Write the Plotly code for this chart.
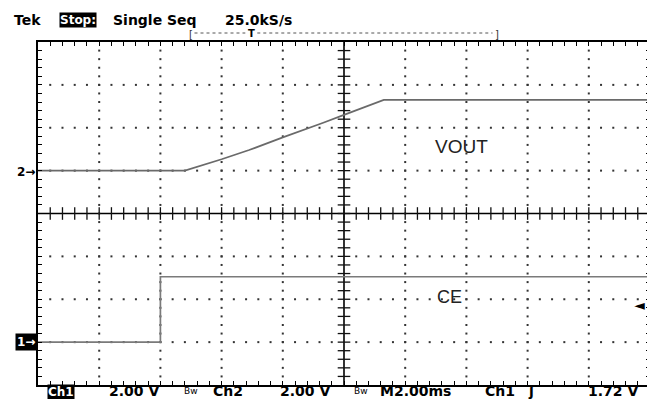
import numpy as np
import plotly.graph_objects as go

# ---- data (time in ms relative to trigger, volts) ----
vout_time_ms = [-4.0, 0.8, 2.0, 2.9, 4.0, 4.55, 5.3, 6.0, 6.7, 7.05, 7.3, 16.0]
vout_volts = [0.0, 0.0, 0.53, 0.96, 1.55, 1.82, 2.22, 2.6, 2.98, 3.18, 3.3, 3.3]
ce_time_ms = [-4.0, 0.0, 0.0, 16.0]
ce_volts = [0.0, 0.0, 3.05, 3.05]
trigger_level_v = 1.72

# ---- scope settings ----
t_range = [-4.0, 16.0]          # 10 div x 2 ms
ch1_range = [-2.0, 14.0]        # 8 div x 2 V, ground at -3 div
ch2_range = [-10.0, 6.0]        # 8 div x 2 V, ground at +1 div
t_div, v_div = 2.0, 2.0

# page body has an 8px margin; compensate so the figure fills the window
OFF = 8
W, H = 655 - OFF, 399 - OFF
L, R, T, B = 38 - OFF, 3, 42 - OFF, 14
pw, ph = W - L - R, H - T - B


def px(x):
    return (x - OFF - L) / pw


def py(y):
    return (H - B - (y - OFF)) / ph


fig = go.Figure()

# graticule dots (in Ch1 / time coordinates)
tc = (t_range[0] + t_range[1]) / 2
vc = (ch1_range[0] + ch1_range[1]) / 2
major_t = [t_range[0] + t_div * k for k in range(1, 10) if k != 5]
major_v = [ch1_range[0] + v_div * k for k in range(1, 8) if k != 4]
minor_t = np.arange(t_range[0] + 0.4, t_range[1] - 0.01, 0.4)
minor_v = np.arange(ch1_range[0] + 0.4, ch1_range[1] - 0.01, 0.4)
dx, dy = [], []
for t in major_t:
    dx += [t] * len(minor_v)
    dy += list(minor_v)
for v in major_v:
    dx += list(minor_t)
    dy += [v] * len(minor_t)
fig.add_trace(go.Scatter(x=dx, y=dy, mode="markers", hoverinfo="skip",
                         marker=dict(symbol="square", size=2, color="#333"),
                         yaxis="y"))

# center line ticks
fig.add_trace(go.Scatter(x=list(minor_t), y=[vc] * len(minor_t), mode="markers",
                         hoverinfo="skip",
                         marker=dict(symbol="line-ns", size=9,
                                     line=dict(width=1.3, color="#111"))))
fig.add_trace(go.Scatter(x=[tc] * len(minor_v), y=list(minor_v), mode="markers",
                         hoverinfo="skip",
                         marker=dict(symbol="line-ew", size=9,
                                     line=dict(width=1.3, color="#111"))))

# signals
fig.add_trace(go.Scatter(x=vout_time_ms, y=vout_volts, mode="lines", yaxis="y2",
                         line=dict(color="#6a6a6a", width=1.7), name="VOUT"))
fig.add_trace(go.Scatter(x=ce_time_ms, y=ce_volts, mode="lines", yaxis="y",
                         line=dict(color="#7a7a7a", width=1.7), name="CE"))

axis_common = dict(showgrid=False, zeroline=False, showline=True, mirror="ticks",
                   linecolor="black", linewidth=2, ticks="inside", ticklen=4,
                   tickwidth=1.3, tickcolor="black", showticklabels=False,
                   fixedrange=True)
fig.update_layout(
    width=W, height=H,
    margin=dict(l=L, r=R, t=T, b=B),
    paper_bgcolor="white", plot_bgcolor="white",
    showlegend=False,
    xaxis=dict(range=t_range, tick0=t_range[0], dtick=0.4, **axis_common),
    yaxis=dict(range=ch1_range, tick0=ch1_range[0], dtick=0.4, **axis_common),
    yaxis2=dict(range=ch2_range, overlaying="y", visible=False),
)

# center lines
fig.add_shape(type="line", xref="x", yref="y", x0=tc, x1=tc, y0=ch1_range[0],
              y1=ch1_range[1], line=dict(color="black", width=1.6), layer="below")
fig.add_shape(type="line", xref="x", yref="y", x0=t_range[0], x1=t_range[1],
              y0=vc, y1=vc, line=dict(color="black", width=1.6), layer="below")

# record bar at top (split around the trigger "T")
for a, b in [(195, 246), (258, 494)]:
    fig.add_shape(type="line", xref="paper", yref="paper", x0=px(a), x1=px(b),
                  y0=py(33), y1=py(33),
                  line=dict(color="#555", width=1, dash="dot"))

hdr = dict(family="DejaVu Sans", size=14, color="black", weight="bold")
bot = dict(family="DejaVu Sans", size=14, color="black", weight="bold")


def ann(text, x, y, font, xanchor="left", **kw):
    fig.add_annotation(text=text, x=px(x), y=py(y), xref="paper", yref="paper",
                       showarrow=False, xanchor=xanchor, yanchor="middle",
                       font=font, **kw)


ann("Tek", 12, 19.5, hdr)
ann("Stop:", 78.5, 20, dict(hdr, color="white", size=12), xanchor="center",
    bgcolor="black", borderpad=0)
ann("Single Seq", 111, 19.5, hdr)
ann("25.0kS/s", 224, 19.5, hdr)
ann("[", 191, 34, dict(family="DejaVu Sans", size=10, color="#333"), xanchor="center")
ann("]", 498, 34, dict(family="DejaVu Sans", size=10, color="#333"), xanchor="center")
ann("T", 252, 33, dict(family="DejaVu Sans", size=10, color="black", weight="bold"),
    xanchor="center")

ann("Ch1", 61.5, 391.5, dict(bot, color="white", size=12),
    xanchor="center", bgcolor="black", borderpad=0)
ann("2.00 V", 107, 391, bot)
ann("Bw", 191, 391, dict(bot, size=9, weight="normal"), xanchor="center")
ann("Ch2", 212, 391, bot)
ann("2.00 V", 279, 391, bot)
ann("Bw", 362, 391, dict(bot, size=9, weight="normal"), xanchor="center")
ann("M2.00ms", 379, 391, bot)
ann("Ch1", 484, 391, bot)
ann("ʃ", 534, 391, bot, xanchor="center")
ann("1.72 V", 588, 391, bot)

# channel ground markers
ann("2→", 37, 172, dict(family="DejaVu Sans", size=12, color="black", weight="bold"),
    xanchor="right")
ann("1→", 37, 342, dict(family="DejaVu Sans", size=12, color="white", weight="bold"),
    xanchor="right", bgcolor="black", borderpad=1)

# trigger level marker
fig.add_annotation(text="◄", x=t_range[1], y=trigger_level_v, xref="x", yref="y",
                   showarrow=False, xanchor="right", yanchor="middle", xshift=-3,
                   font=dict(family="DejaVu Sans", size=14, color="black"))

# trace labels
ann("VOUT", 463, 146, dict(family="Liberation Sans", size=19, color="#222"),
    xanchor="center")
ann("CE", 451, 297, dict(family="Liberation Sans", size=18, color="#222"),
    xanchor="center")

fig.write_html("out.html")
